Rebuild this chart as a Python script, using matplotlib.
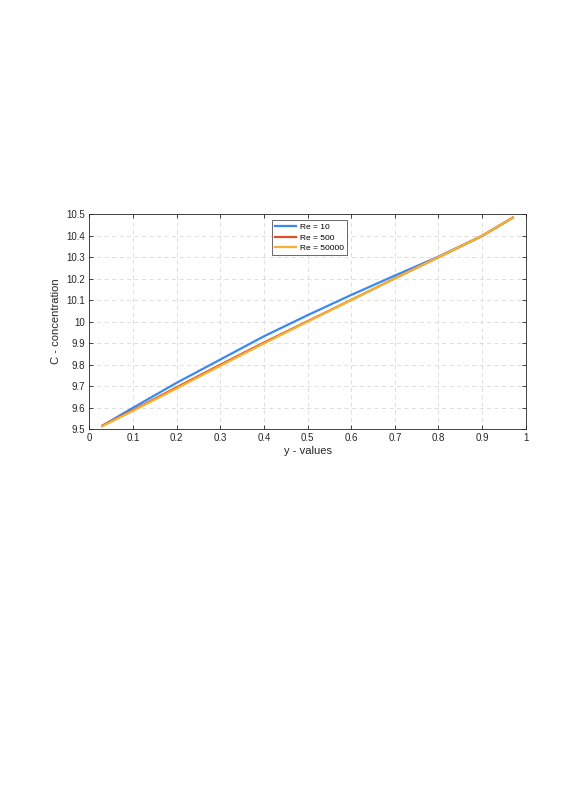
import matplotlib.pyplot as plt

# values
y_values = [0.03, 0.1, 0.2, 0.3, 0.4, 0.5, 0.6, 0.7, 0.8, 0.9, 0.97]
c_re10 = [9.517, 9.600, 9.716, 9.824, 9.932, 10.030, 10.124, 10.214, 10.302, 10.399, 10.483]
c_re500 = [9.517, 9.589, 9.695, 9.800, 9.903, 10.002, 10.101, 10.201, 10.299, 10.398, 10.483]
c_re50000 = [9.515, 9.586, 9.690, 9.795, 9.899, 10.000, 10.100, 10.201, 10.300, 10.399, 10.483]
labels = ["Re = 10", "Re = 500", "Re = 50000"]
colors = ["#3A88F5", "#E2502A", "#F2B233"]

plt.rcParams['font.family'] = ['Liberation Sans', 'DejaVu Sans']

fig = plt.figure(figsize=(5.62, 7.95), dpi=100)
ax = fig.add_axes([0.159, 0.46, 0.7765, 0.2708])

for c, lab, col in zip([c_re10, c_re500, c_re50000], labels, colors):
    ax.plot(y_values, c, color=col, linewidth=1.6, label=lab)

ax.set_xlim(0, 1)
ax.set_ylim(9.5, 10.5)
ax.set_xticks([i / 10 for i in range(11)])
ax.set_xticklabels(["0", "0.1", "0.2", "0.3", "0.4", "0.5", "0.6", "0.7", "0.8", "0.9", "1"])
ax.set_yticks([9.5 + i / 10 for i in range(11)])
ax.set_yticklabels(["9.5", "9.6", "9.7", "9.8", "9.9", "10", "10.1", "10.2", "10.3", "10.4", "10.5"])
ax.tick_params(direction='in', top=True, right=True, labelsize=7, length=3,
               width=0.6, color='#262626', labelcolor='#262626', pad=3)
ax.grid(True, linestyle=(0, (5, 4)), color='#d9d9d9', linewidth=0.6)
for s in ax.spines.values():
    s.set_linewidth(0.6)
    s.set_color('#262626')

ax.set_xlabel("y - values", fontsize=8, color='#262626', labelpad=2)
ax.set_ylabel("C - concentration", fontsize=8, color='#262626', labelpad=4)

leg = ax.legend(loc='upper left', bbox_to_anchor=(0.418, 0.97), fontsize=6,
                frameon=True, fancybox=False, handlelength=2.6, borderpad=0.35,
                labelspacing=0.3, handletextpad=0.4, borderaxespad=0)
leg.get_frame().set_edgecolor('#262626')
leg.get_frame().set_linewidth(0.6)

fig.savefig("out.png", dpi=100)
